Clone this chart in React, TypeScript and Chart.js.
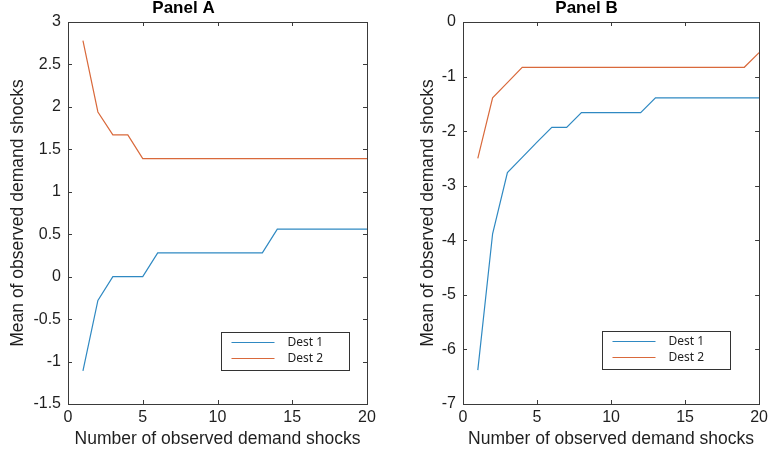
import React, { useEffect, useRef } from 'react';
import { Chart, registerables } from 'chart.js';

Chart.register(...registerables);

// ---- data ----
const shocks = [1, 2, 3, 4, 5, 6, 7, 8, 9, 10, 11, 12, 13, 14, 15, 16, 17, 18, 19, 20];

const panelADest1 = [-1.11, -0.28, 0, 0, 0, 0.28, 0.28, 0.28, 0.28, 0.28, 0.28, 0.28, 0.28, 0.56, 0.56, 0.56, 0.56, 0.56, 0.56, 0.56];
const panelADest2 = [2.78, 1.94, 1.67, 1.67, 1.39, 1.39, 1.39, 1.39, 1.39, 1.39, 1.39, 1.39, 1.39, 1.39, 1.39, 1.39, 1.39, 1.39, 1.39, 1.39];

const panelBDest1 = [-6.38, -3.88, -2.76, -2.48, -2.2, -1.93, -1.93, -1.66, -1.66, -1.66, -1.66, -1.66, -1.39, -1.39, -1.39, -1.39, -1.39, -1.39, -1.39, -1.39];
const panelBDest2 = [-2.5, -1.39, -1.11, -0.83, -0.83, -0.83, -0.83, -0.83, -0.83, -0.83, -0.83, -0.83, -0.83, -0.83, -0.83, -0.83, -0.83, -0.83, -0.83, -0.56];

const seriesLabels = ['Dest 1', 'Dest 2'];
const panelTitles = ['Panel A', 'Panel B'];
const xTitle = 'Number of observed demand shocks';
const yTitle = 'Mean of observed demand shocks';

const BLUE = '#2f89c2';
const ORANGE = '#d9693b';
const AXIS = '#3a3a3a';
const TEXT = '#1f1f1f';
const FONT = '"Liberation Sans", Arial, Helvetica, sans-serif';

const toPoints = (vals: number[]) => shocks.map((x, i) => ({ x, y: vals[i] }));
const fmt = (v: any) => `${+Number(v).toFixed(2)}`;

interface PanelProps {
  title: string;
  d1: number[];
  d2: number[];
  yMin: number;
  yMax: number;
  yStep: number;
  width: number;
  left: number;
  padLeft: number;
  padRight: number;
  yAxisWidth: number;
  legendRightInset: number;
  legendBottomInset: number;
}

const framePlugin = {
  id: 'matlabFrame',
  afterDraw(chart: any, _args: any, opts: any) {
    const { ctx, chartArea } = chart;
    const { left, right, top, bottom } = chartArea;
    ctx.save();
    ctx.strokeStyle = AXIS;
    ctx.lineWidth = 1;
    ctx.strokeRect(Math.round(left) + 0.5, Math.round(top) + 0.5, Math.round(right - left), Math.round(bottom - top));
    const tl = 4;
    const xs = chart.scales.x;
    const ys = chart.scales.y;
    ctx.beginPath();
    xs.ticks.forEach((t: any) => {
      const px = Math.round(xs.getPixelForValue(t.value)) + 0.5;
      ctx.moveTo(px, bottom);
      ctx.lineTo(px, bottom - tl);
      ctx.moveTo(px, top);
      ctx.lineTo(px, top + tl);
    });
    ys.ticks.forEach((t: any) => {
      const py = Math.round(ys.getPixelForValue(t.value)) + 0.5;
      ctx.moveTo(left, py);
      ctx.lineTo(left + tl, py);
      ctx.moveTo(right, py);
      ctx.lineTo(right - tl, py);
    });
    ctx.stroke();

    // legend box inside the axes (MATLAB style)
    const lw = 128;
    const lh = 38;
    const bx = Math.round(right - opts.rightInset - lw) + 0.5;
    const by = Math.round(bottom - opts.bottomInset - lh) + 0.5;
    ctx.fillStyle = '#ffffff';
    ctx.fillRect(bx, by, lw, lh);
    ctx.strokeStyle = '#333333';
    ctx.strokeRect(bx, by, lw, lh);
    ctx.font = '12px "Noto Sans", "Open Sans", sans-serif';
    ctx.textBaseline = 'middle';
    ctx.textAlign = 'left';
    chart.data.datasets.forEach((ds: any, i: number) => {
      const ly = by + 10 + i * 16;
      ctx.strokeStyle = ds.borderColor;
      ctx.lineWidth = 1.2;
      ctx.beginPath();
      ctx.moveTo(bx + 10, ly);
      ctx.lineTo(bx + 53, ly);
      ctx.stroke();
      ctx.fillStyle = TEXT;
      ctx.fillText(ds.label, bx + 66, ly);
    });
    ctx.restore();
  },
};

function Panel(p: PanelProps) {
  const ref = useRef<HTMLCanvasElement | null>(null);
  useEffect(() => {
    if (!ref.current) return;
    const chart = new Chart(ref.current, {
      type: 'line',
      data: {
        datasets: [
          { label: seriesLabels[0], data: toPoints(p.d1), borderColor: BLUE, backgroundColor: BLUE, borderWidth: 1.2, pointRadius: 0, tension: 0 },
          { label: seriesLabels[1], data: toPoints(p.d2), borderColor: ORANGE, backgroundColor: ORANGE, borderWidth: 1.2, pointRadius: 0, tension: 0 },
        ],
      },
      options: {
        responsive: false,
        animation: false,
        layout: { padding: { left: p.padLeft, right: p.padRight, top: 0, bottom: 0 } },
        plugins: {
          legend: { display: false },
          tooltip: { enabled: false },
          title: {
            display: true,
            text: p.title,
            color: '#000',
            font: { family: FONT, size: 17, weight: 'bold', lineHeight: 1 },
            padding: { top: 0, bottom: 5 },
          },
          matlabFrame: { rightInset: p.legendRightInset, bottomInset: p.legendBottomInset },
        } as any,
        scales: {
          x: {
            type: 'linear',
            min: 0,
            max: 20,
            grid: { display: false, drawTicks: false },
            border: { display: false },
            ticks: { stepSize: 5, color: TEXT, font: { family: FONT, size: 16 }, padding: 4, maxRotation: 0, callback: fmt },
            title: { display: true, text: xTitle, color: TEXT, font: { family: FONT, size: 17.5 }, padding: { top: 0, bottom: 3 } },
            afterFit: (s: any) => { s.height = 49; },
          },
          y: {
            type: 'linear',
            min: p.yMin,
            max: p.yMax,
            grid: { display: false, drawTicks: false },
            border: { display: false },
            ticks: { stepSize: p.yStep, color: TEXT, font: { family: FONT, size: 16 }, padding: 7, callback: fmt },
            title: { display: true, text: yTitle, color: TEXT, font: { family: FONT, size: 17.5 }, padding: { top: 8, bottom: 0 } },
            afterFit: (s: any) => { s.width = p.yAxisWidth; },
          },
        },
      },
      plugins: [framePlugin],
    });
    return () => chart.destroy();
  }, []);
  return (
    <canvas
      ref={ref}
      width={p.width}
      height={453}
      style={{ position: 'absolute', left: p.left, top: 0, width: p.width, height: 453 }}
    />
  );
}

export default function App() {
  return (
    <div style={{ position: 'absolute', left: 0, top: 0, width: 772, height: 453, background: '#fff' }}>
      <Panel
        title={panelTitles[0]}
        d1={panelADest1}
        d2={panelADest2}
        yMin={-1.5}
        yMax={3}
        yStep={0.5}
        width={385}
        left={0}
        padLeft={0}
        padRight={18}
        yAxisWidth={68}
        legendRightInset={18}
        legendBottomInset={34}
      />
      <Panel
        title={panelTitles[1]}
        d1={panelBDest1}
        d2={panelBDest2}
        yMin={-7}
        yMax={0}
        yStep={1}
        width={387}
        left={385}
        padLeft={25}
        padRight={9}
        yAxisWidth={53}
        legendRightInset={29}
        legendBottomInset={35}
      />
    </div>
  );
}
